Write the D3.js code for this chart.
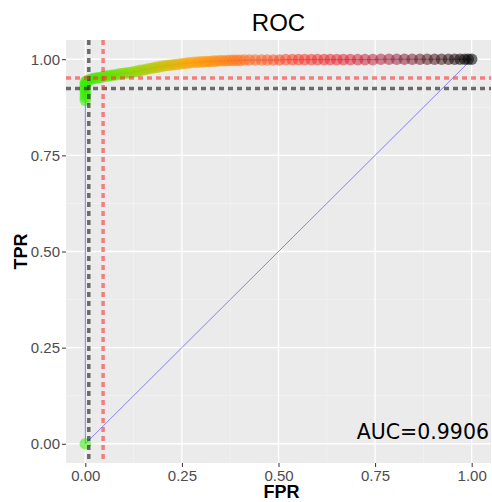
<!DOCTYPE html>
<html>
<head>
<meta charset="utf-8">
<script src="https://cdn.jsdelivr.net/npm/d3@7"></script>
<style>
  html, body { margin: 0; padding: 0; background: #fff; }
  svg { display: block; }
</style>
</head>
<body>
<svg id="chart" width="492" height="502"></svg>
<script>
// ROC curve points (false positive rate, true positive rate)
const fpr = [
  0, 0, 0, 0, 0, 0, 0, 0, 0,
  0.004, 0.009, 0.015, 0.021, 0.028, 0.034, 0.041, 0.047, 0.054, 0.061,
  0.068, 0.075, 0.082, 0.090, 0.097, 0.105, 0.112, 0.120, 0.128, 0.136,
  0.143, 0.151, 0.159, 0.167, 0.175, 0.183, 0.191, 0.199, 0.207, 0.215,
  0.223, 0.231, 0.239, 0.248, 0.256, 0.264, 0.272, 0.281, 0.289, 0.297,
  0.306, 0.314, 0.322, 0.331, 0.339, 0.348, 0.356, 0.365, 0.374, 0.383,
  0.392, 0.401, 0.412, 0.425, 0.440, 0.456, 0.471, 0.487, 0.503, 0.519,
  0.536, 0.552, 0.568, 0.585, 0.601, 0.618, 0.634, 0.651, 0.668, 0.686,
  0.705, 0.724, 0.744, 0.765, 0.786, 0.806, 0.826, 0.846, 0.866, 0.885,
  0.904, 0.922, 0.940, 0.956, 0.970, 0.982, 0.991, 1.000
];
const tpr = [
  0, 0.893, 0.902, 0.910, 0.918, 0.925, 0.931, 0.936, 0.941,
  0.944, 0.946, 0.948, 0.950, 0.951, 0.952, 0.953, 0.955, 0.956, 0.957,
  0.958, 0.959, 0.960, 0.962, 0.963, 0.964, 0.965, 0.966, 0.968, 0.969,
  0.971, 0.972, 0.974, 0.976, 0.977, 0.979, 0.980, 0.982, 0.983, 0.984,
  0.985, 0.986, 0.987, 0.988, 0.989, 0.990, 0.991, 0.992, 0.992, 0.993,
  0.993, 0.994, 0.994, 0.995, 0.995, 0.996, 0.996, 0.996, 0.997, 0.997,
  0.997, 0.997, 0.998, 0.998, 0.998, 0.998, 0.998, 0.998, 0.998, 0.999,
  0.999, 0.999, 0.999, 0.999, 0.999, 0.999, 0.999, 0.999, 0.999, 0.999,
  0.999, 0.999, 0.999, 1.000, 1.000, 1.000, 1.000, 1.000, 1.000, 1.000,
  1.000, 1.000, 1.000, 1.000, 1.000, 1.000, 1.000, 1.000
];

// Cut-off reference lines
const cutFprBlack = 0.009, cutTprBlack = 0.924;
const cutFprRed = 0.046, cutTprRed = 0.951;

const aucLabel = "AUC=0.9906";
const tickValues = [0, 0.25, 0.5, 0.75, 1];
const minorValues = [0.125, 0.375, 0.625, 0.875];

// Colour ramp along the curve
const rampStops = [0, 0.1, 0.2, 0.28, 0.42, 0.55, 0.68, 0.8, 0.92, 1];
const rampColors = ["#33ee00", "#77dd00", "#c8c000", "#ffa000", "#ff6a1a",
                    "#f83a2a", "#e02838", "#a02840", "#401818", "#000000"];

const svg = d3.select("#chart");
const pLeft = 66, pRight = 491, pTop = 40, pBottom = 463;

const x = d3.scaleLinear().domain([-0.05, 1.05]).range([pLeft, pRight]);
const y = d3.scaleLinear().domain([-0.05, 1.05]).range([pBottom, pTop]);
const color = d3.scaleLinear().domain(rampStops).range(rampColors).interpolate(d3.interpolateRgb);

const points = fpr.map((f, i) => ({ f, t: tpr[i] }));

// Panel background
svg.append("rect")
  .attr("x", pLeft).attr("y", pTop)
  .attr("width", pRight - pLeft).attr("height", pBottom - pTop)
  .attr("fill", "#ebebeb");

const grid = svg.append("g");
minorValues.forEach(v => {
  grid.append("line").attr("x1", x(v)).attr("x2", x(v)).attr("y1", pTop).attr("y2", pBottom)
    .attr("stroke", "#f7f7f7").attr("stroke-width", 0.6);
  grid.append("line").attr("y1", y(v)).attr("y2", y(v)).attr("x1", pLeft).attr("x2", pRight)
    .attr("stroke", "#f7f7f7").attr("stroke-width", 0.6);
});
tickValues.forEach(v => {
  grid.append("line").attr("x1", x(v)).attr("x2", x(v)).attr("y1", pTop).attr("y2", pBottom)
    .attr("stroke", "#ffffff").attr("stroke-width", 1.3);
  grid.append("line").attr("y1", y(v)).attr("y2", y(v)).attr("x1", pLeft).attr("x2", pRight)
    .attr("stroke", "#ffffff").attr("stroke-width", 1.3);
});

// Chance diagonal
svg.append("line")
  .attr("x1", x(0)).attr("y1", y(0)).attr("x2", x(1)).attr("y2", y(1))
  .attr("stroke", "#4444ff").attr("stroke-width", 0.8).attr("stroke-opacity", 0.8);

// ROC path
svg.append("path")
  .datum(points)
  .attr("d", d3.line().x(d => x(d.f)).y(d => y(d.t)))
  .attr("fill", "none")
  .attr("stroke", "#6666ff").attr("stroke-width", 0.9);

// ROC points
svg.append("g").selectAll("circle")
  .data(points)
  .join("circle")
  .attr("cx", d => x(d.f))
  .attr("cy", d => y(d.t))
  .attr("r", 5.8)
  .attr("fill", d => color(d.f))
  .attr("fill-opacity", 0.55);

// Cut-off dashed lines
const dash = svg.append("g").attr("stroke-width", 3.5).attr("stroke-dasharray", "5,4");
dash.append("line").attr("x1", x(cutFprBlack)).attr("x2", x(cutFprBlack)).attr("y1", pTop).attr("y2", pBottom)
  .attr("stroke", "#333").attr("stroke-opacity", 0.7);
dash.append("line").attr("y1", y(cutTprBlack)).attr("y2", y(cutTprBlack)).attr("x1", pLeft).attr("x2", pRight)
  .attr("stroke", "#333").attr("stroke-opacity", 0.7);
dash.append("line").attr("x1", x(cutFprRed)).attr("x2", x(cutFprRed)).attr("y1", pTop).attr("y2", pBottom)
  .attr("stroke", "#ff3333").attr("stroke-opacity", 0.6);
dash.append("line").attr("y1", y(cutTprRed)).attr("y2", y(cutTprRed)).attr("x1", pLeft).attr("x2", pRight)
  .attr("stroke", "#ff3333").attr("stroke-opacity", 0.6);

// Axes
const fmt = d3.format(".2f");
const xAxis = svg.append("g").attr("transform", `translate(0,${pBottom})`)
  .call(d3.axisBottom(x).tickValues(tickValues).tickFormat(fmt).tickSize(4).tickPadding(3));
const yAxis = svg.append("g").attr("transform", `translate(${pLeft},0)`)
  .call(d3.axisLeft(y).tickValues(tickValues).tickFormat(fmt).tickSize(4).tickPadding(2));
[xAxis, yAxis].forEach(a => {
  a.select(".domain").remove();
  a.selectAll(".tick line").attr("stroke", "#333").attr("stroke-width", 1);
  a.selectAll(".tick text")
    .attr("fill", "#4d4d4d")
    .style("font-family", "Liberation Sans, Arial, sans-serif")
    .style("font-size", "15px");
});

// Titles
svg.append("text")
  .attr("x", (pLeft + pRight) / 2).attr("y", 31)
  .attr("text-anchor", "middle")
  .style("font-family", "Liberation Sans, Arial, sans-serif")
  .style("font-size", "24px")
  .text("ROC");

svg.append("text")
  .attr("x", (pLeft + pRight) / 2 + 3).attr("y", 498)
  .attr("text-anchor", "middle")
  .style("font-family", "Liberation Sans, Arial, sans-serif")
  .style("font-size", "18px").style("font-weight", "bold")
  .text("FPR");

svg.append("text")
  .attr("transform", `translate(27,${(pTop + pBottom) / 2}) rotate(-90)`)
  .attr("text-anchor", "middle")
  .style("font-family", "Liberation Sans, Arial, sans-serif")
  .style("font-size", "18px").style("font-weight", "bold")
  .text("TPR");

svg.append("text")
  .attr("x", 489).attr("y", 439)
  .attr("text-anchor", "end")
  .style("font-family", "DejaVu Sans, sans-serif")
  .style("font-size", "20.5px")
  .text(aucLabel);
</script>
</body>
</html>
